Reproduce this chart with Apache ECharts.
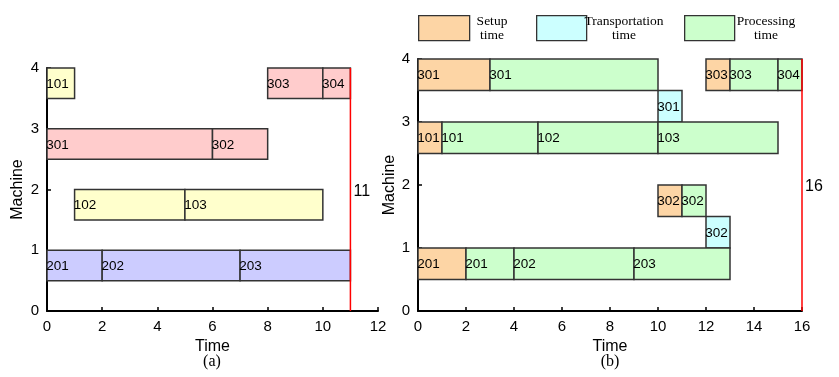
<!DOCTYPE html>
<html>
<head>
<meta charset="utf-8">
<script src="https://cdn.jsdelivr.net/npm/echarts@6/dist/echarts.min.js"></script>
<style>
  html, body { margin: 0; padding: 0; background: #fff; }
  #chart { width: 839px; height: 377px; }
</style>
</head>
<body>
<div id="chart"></div>
<script>
// (a) 各工件的工序: [机器, 开始, 结束, 标签]
const leftJob1 = [[4, 0, 1, '101'], [2, 1, 5, '102'], [2, 5, 10, '103']];
const leftJob2 = [[1, 0, 2, '201'], [1, 2, 7, '202'], [1, 7, 11, '203']];
const leftJob3 = [[3, 0, 6, '301'], [3, 6, 8, '302'], [4, 8, 10, '303'], [4, 10, 11, '304']];
const leftMakespan = 11;

// (b) 准备 / 运输 / 加工
const rightSetup = [[4, 0, 3, '301'], [4, 12, 13, '303'], [3, 0, 1, '101'], [2, 10, 11, '302'], [1, 0, 2, '201']];
const rightTransport = [[3.5, 10, 11, '301'], [1.5, 12, 13, '302']];
const rightProcessing = [
    [4, 3, 10, '301'], [4, 13, 15, '303'], [4, 15, 16, '304'],
    [3, 1, 5, '101'], [3, 5, 10, '102'], [3, 10, 15, '103'],
    [2, 11, 12, '302'],
    [1, 2, 4, '201'], [1, 4, 9, '202'], [1, 9, 13, '203']
];
const rightMakespan = 16;

const legendNames = ['Setup\ntime', 'Transportation\ntime', 'Processing\ntime'];

const chart = echarts.init(document.getElementById('chart'));
const sans = 'Arial, "Liberation Sans", sans-serif';
const serif = '"Liberation Serif", "Times New Roman", serif';

function renderBar(params, api) {
    const m = api.value(0);
    const p0 = api.coord([api.value(1), m]);
    const p1 = api.coord([api.value(2), m - 0.5]);
    return {
        type: 'rect',
        shape: { x: p0[0], y: p0[1], width: p1[0] - p0[0], height: p1[1] - p0[1] },
        style: { fill: api.visual('color'), stroke: '#333', lineWidth: 1.5 },
        textContent: {
            style: { text: api.value(3), fill: '#000', font: '13.5px ' + sans }
        },
        textConfig: { position: 'insideLeft', distance: 0, offset: [0, 1] }
    };
}

function renderMakespan(params, api) {
    const x = api.value(0);
    const top = api.coord([x, 4]);
    const bot = api.coord([x, 0]);
    const mid = api.coord([x, 2]);
    return {
        type: 'group',
        children: [
            { type: 'line', shape: { x1: top[0], y1: top[1], x2: bot[0], y2: bot[1] }, style: { stroke: '#ff0000', lineWidth: 1.5 } },
            { type: 'text', x: mid[0] + 3, y: mid[1] + 2, style: { text: String(x), fill: '#000', font: '16px ' + sans, verticalAlign: 'middle' } }
        ]
    };
}

function barSeries(idx, data, color, name) {
    return {
        type: 'custom',
        name: name,
        xAxisIndex: idx,
        yAxisIndex: idx,
        renderItem: renderBar,
        itemStyle: { color: color },
        encode: { x: [1, 2], y: 0 },
        data: data,
        z: 2
    };
}

const tickFont = { fontSize: 15, color: '#000', fontFamily: sans };

function xAxis(idx, max) {
    return {
        type: 'value', gridIndex: idx, min: 0, max: max, interval: 2,
        name: 'Time', nameLocation: 'middle', nameGap: 26,
        nameTextStyle: { fontSize: 16, color: '#000', fontFamily: sans },
        axisLine: { show: true, lineStyle: { color: '#000', width: 2 } },
        axisTick: { show: true, inside: true, length: 4, lineStyle: { color: '#000', width: 1.5 } },
        axisLabel: Object.assign({ margin: 8 }, tickFont),
        splitLine: { show: false }
    };
}

function yAxis(idx, gap) {
    return {
        type: 'value', gridIndex: idx, min: 0, max: 4, interval: 1,
        name: 'Machine', nameLocation: 'middle', nameGap: gap,
        nameTextStyle: { fontSize: 16, color: '#000', fontFamily: sans },
        axisLine: { show: true, lineStyle: { color: '#000', width: 2 } },
        axisTick: { show: true, inside: true, length: 4, lineStyle: { color: '#000', width: 1.5 } },
        axisLabel: Object.assign({ margin: 8 }, tickFont),
        splitLine: { show: false }
    };
}

// 图例 (b)
const legendBoxes = [
    { x: 418, w: 51, color: '#fdd5a5', tx: 492 },
    { x: 536, w: 50, color: '#ccffff', tx: 624 },
    { x: 684, w: 50, color: '#ccffcc', tx: 766 }
];
const graphics = [];
legendBoxes.forEach(function (b, i) {
    graphics.push({ type: 'rect', left: b.x, top: 15, shape: { width: b.w, height: 25 }, style: { fill: b.color, stroke: '#333', lineWidth: 1.3 } });
    graphics.push({ type: 'text', x: b.tx, y: 28, style: { text: legendNames[i], fill: '#000', font: '13.5px ' + serif, align: 'center', verticalAlign: 'middle', lineHeight: 14 } });
});
graphics.push({ type: 'text', x: 212, y: 362, style: { text: '(a)', fill: '#000', font: '16px ' + serif, align: 'center', verticalAlign: 'middle' } });
graphics.push({ type: 'text', x: 610, y: 362, style: { text: '(b)', fill: '#000', font: '16px ' + serif, align: 'center', verticalAlign: 'middle' } });

const option = {
    backgroundColor: '#fff',
    animation: false,
    grid: [
        { left: 47, top: 68, width: 331, height: 243 },
        { left: 418, top: 59, width: 384, height: 252 }
    ],
    xAxis: [xAxis(0, 12), xAxis(1, 16)],
    yAxis: [yAxis(0, 21), yAxis(1, 14)],
    graphic: graphics,
    series: [
        barSeries(0, leftJob1, '#ffffcc', 'job1'),
        barSeries(0, leftJob2, '#ccccff', 'job2'),
        barSeries(0, leftJob3, '#ffcccc', 'job3'),
        { type: 'custom', xAxisIndex: 0, yAxisIndex: 0, renderItem: renderMakespan, data: [[leftMakespan]], encode: { x: 0 }, z: 3 },
        barSeries(1, rightSetup, '#fdd5a5', 'setup'),
        barSeries(1, rightTransport, '#ccffff', 'transport'),
        barSeries(1, rightProcessing, '#ccffcc', 'processing'),
        { type: 'custom', xAxisIndex: 1, yAxisIndex: 1, renderItem: renderMakespan, data: [[rightMakespan]], encode: { x: 0 }, z: 3 }
    ]
};

chart.setOption(option);
</script>
</body>
</html>
